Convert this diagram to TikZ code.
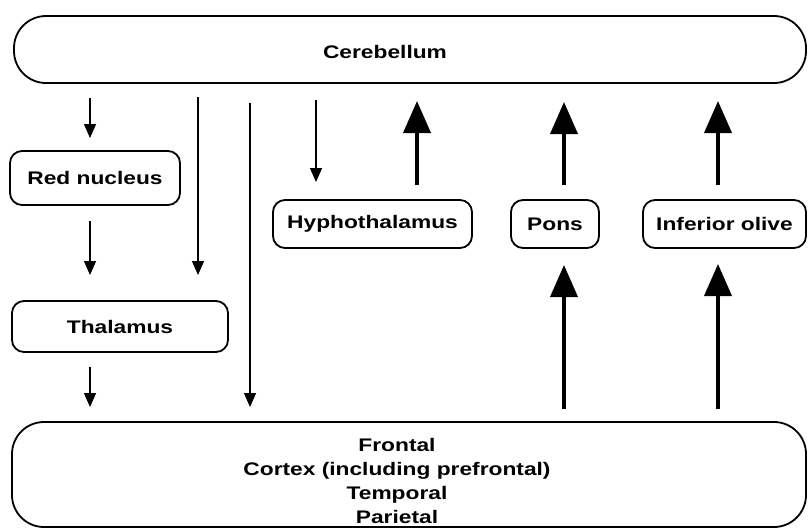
\documentclass[tikz,border=0pt]{standalone}
\usepackage{fontspec}
\setmainfont{Liberation Sans}[FakeStretch=1.25]
\usetikzlibrary{arrows.meta}
\begin{document}
\begin{tikzpicture}[x=1pt,y=-1pt,
  box/.style={draw=black,line width=1.8pt,rounded corners=12pt,inner sep=0pt},
  bigbox/.style={draw=black,line width=1.8pt,rounded corners=32pt,inner sep=0pt},
  lbl/.style={font=\fontsize{18.2}{24.3}\selectfont\bfseries,inner sep=0pt,align=center},
  thinarrow/.style={line width=1.4pt,-{Triangle[width=12pt,length=14pt]}},
  thickarrow/.style={line width=3.8pt,-{Triangle[width=27pt,length=32pt]}}]
\useasboundingbox (0,0) rectangle (808,528);
% boxes
\node[bigbox,minimum width=792pt,minimum height=67pt] (cereb) at (410,49.5) {};
\node[lbl] (cerebl) at (385,52) {Cerebellum};
\node[bigbox,minimum width=794pt,minimum height=105pt] (cortex) at (409,474.5) {};
\node[lbl] (cortexl) at (397,481) {Frontal\\Cortex (including prefrontal)\\Temporal\\Parietal};
\node[box,lbl,minimum width=170pt,minimum height=54pt] (red) at (95,178) {Red nucleus};
\node[box,lbl,minimum width=216pt,minimum height=51pt] (thal) at (120,326.5) {Thalamus};
\node[box,lbl,minimum width=199pt,minimum height=48pt] (hypo) at (372.5,224) {Hyphothalamus};
\node[box,lbl,minimum width=88pt,minimum height=48pt] (pons) at (555,224) {Pons};
\node[box,lbl,minimum width=163pt,minimum height=48pt] (olive) at (724.5,224) {Inferior olive};
% arrow end points
\coordinate (a1s) at (90,98);  \coordinate (a1e) at (90,138);
\coordinate (a2s) at (90,221); \coordinate (a2e) at (90,275);
\coordinate (a3s) at (198,97); \coordinate (a3e) at (198,275);
\coordinate (a4s) at (250,103); \coordinate (a4e) at (250,407);
\coordinate (a5s) at (316,100); \coordinate (a5e) at (316,182);
\coordinate (a6s) at (90,367); \coordinate (a6e) at (90,407);
\coordinate (u1s) at (417,185); \coordinate (u1e) at (417,101);
\coordinate (u2s) at (564,185); \coordinate (u2e) at (564,102);
\coordinate (u3s) at (718,185); \coordinate (u3e) at (718,101);
\coordinate (u4s) at (564,409); \coordinate (u4e) at (564,265);
\coordinate (u5s) at (718,409); \coordinate (u5e) at (718,264);
% arrows
\foreach \a in {a1,a2,a3,a4,a5,a6} \draw[thinarrow] (\a s) -- (\a e);
\foreach \a in {u1,u2,u3,u4,u5} \draw[thickarrow] (\a s) -- (\a e);
\end{tikzpicture}
\end{document}
